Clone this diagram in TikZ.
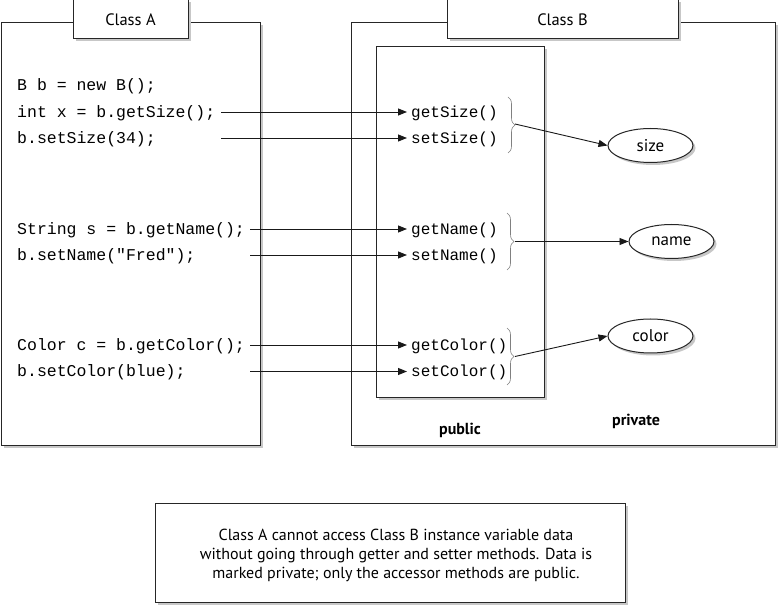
\documentclass[tikz,border=0pt]{standalone}
\usepackage{fontspec}
\setmainfont{PT Sans}
\newfontfamily\codefont{Liberation Mono}
\usetikzlibrary{arrows.meta,shadows,decorations.pathreplacing,shapes.geometric}
\begin{document}
\begin{tikzpicture}[x=1pt,y=-1pt,
  shad/.style={drop shadow={shadow xshift=2.5pt,shadow yshift=-2.5pt,fill=black!22,opacity=1}},
  frame/.style={draw=black!85,line width=1pt,fill=white,shad},
  title/.style={frame,minimum height=39pt,font=\fontsize{16.5}{19}\selectfont,inner sep=0pt},
  code/.style={anchor=west,inner sep=0pt,font=\codefont\fontsize{16.5}{19}\selectfont,text height=11pt,text depth=0pt},
  meth/.style={code,inner xsep=4pt,font=\codefont\fontsize{16}{19}\selectfont},
  conn/.style={draw=black!90,line width=0.9pt,-{Triangle[length=9pt,width=7pt]}},
  brc/.style={draw=black!50,line width=0.6pt,decorate,decoration={brace,amplitude=7pt}},
  var/.style={ellipse,frame,minimum width=85pt,minimum height=34pt,inner sep=0pt,font=\fontsize{17}{19}\selectfont},
  lbl/.style={font=\bfseries\fontsize{16}{19}\selectfont}]
\useasboundingbox (0,0) rectangle (780,609);
% Class A
\node[frame,minimum width=259pt,minimum height=423pt,inner sep=0pt] (boxA) at (130.5,234.5) {};
\node[title,minimum width=115pt] (titleA) at (130.5,19.5) {Class A};
% Class B
\node[frame,minimum width=424pt,minimum height=423pt,inner sep=0pt] (boxB) at (563,234.5) {};
\node[title,minimum width=231pt] (titleB) at (562.5,19.5) {Class B};
\node[frame,minimum width=168pt,minimum height=351pt,inner sep=0pt] (pub) at (460,222) {};
% code in A
\node[code] (c1) at (17,85) {B b = new B();};
\node[code] (c2) at (17,112) {int x = b.getSize();};
\node[code] (c3) at (17,138) {b.setSize(34);};
\node[code] (c4) at (17,229) {String s = b.getName();};
\node[code] (c5) at (17,255) {b.setName("Fred");};
\node[code] (c6) at (17,345) {Color c = b.getColor();};
\node[code] (c7) at (17,371.5) {b.setColor(blue);};
% methods
\node[meth] (m1) at (407,112) {getSize()};
\node[meth] (m2) at (407,138) {setSize()};
\node[meth] (m3) at (407,229) {getName()};
\node[meth] (m4) at (407,255) {setName()};
\node[meth] (m5) at (407,345) {getColor()};
\node[meth] (m6) at (407,371.5) {setColor()};
% arrow starts
\coordinate (s2) at (221,112);
\coordinate (s3) at (221,138);
\coordinate (s4) at (250,229);
\coordinate (s5) at (250,255);
\coordinate (s6) at (250,345);
\coordinate (s7) at (250,371.5);
\draw[conn] (s2) -- (m1.west);
\draw[conn] (s3) -- (m2.west);
\draw[conn] (s4) -- (m3.west);
\draw[conn] (s5) -- (m4.west);
\draw[conn] (s6) -- (m5.west);
\draw[conn] (s7) -- (m6.west);
% private variables
\node[var] (size) at (650.5,145.5) {size};
\node[var] (name) at (671.5,241.5) {name};
\node[var] (color) at (650.5,336) {color};
% braces
\coordinate (b1t) at (508,97);  \coordinate (b1b) at (508,153);
\coordinate (b2t) at (507,213); \coordinate (b2b) at (507,270);
\coordinate (b3t) at (507,328); \coordinate (b3b) at (507,385);
\draw[brc] (b1t) -- (b1b);
\draw[brc] (b2t) -- (b2b);
\draw[brc] (b3t) -- (b3b);
\coordinate (t1) at (515,124);
\coordinate (t2) at (515,241.5);
\coordinate (t3) at (515,356.5);
\draw[conn] (t1) -- (size.west);
\draw[conn] (t2) -- (name.west);
\draw[conn] (t3) -- (color.west);
% labels
\node[lbl] (publ) at (460,430) {public};
\node[lbl] (privl) at (636,421.5) {private};
% note
\node[frame,minimum width=470pt,minimum height=99pt,inner sep=0pt] (note) at (390,553.5) {};
\node[align=center,inner sep=0pt,font=\fontsize{16}{19}\selectfont] (notetext) at (396,555)
  {Class A cannot access Class B instance variable data\\without going through getter and setter methods. Data is\\marked private; only the accessor methods are public.};
\end{tikzpicture}
\end{document}
